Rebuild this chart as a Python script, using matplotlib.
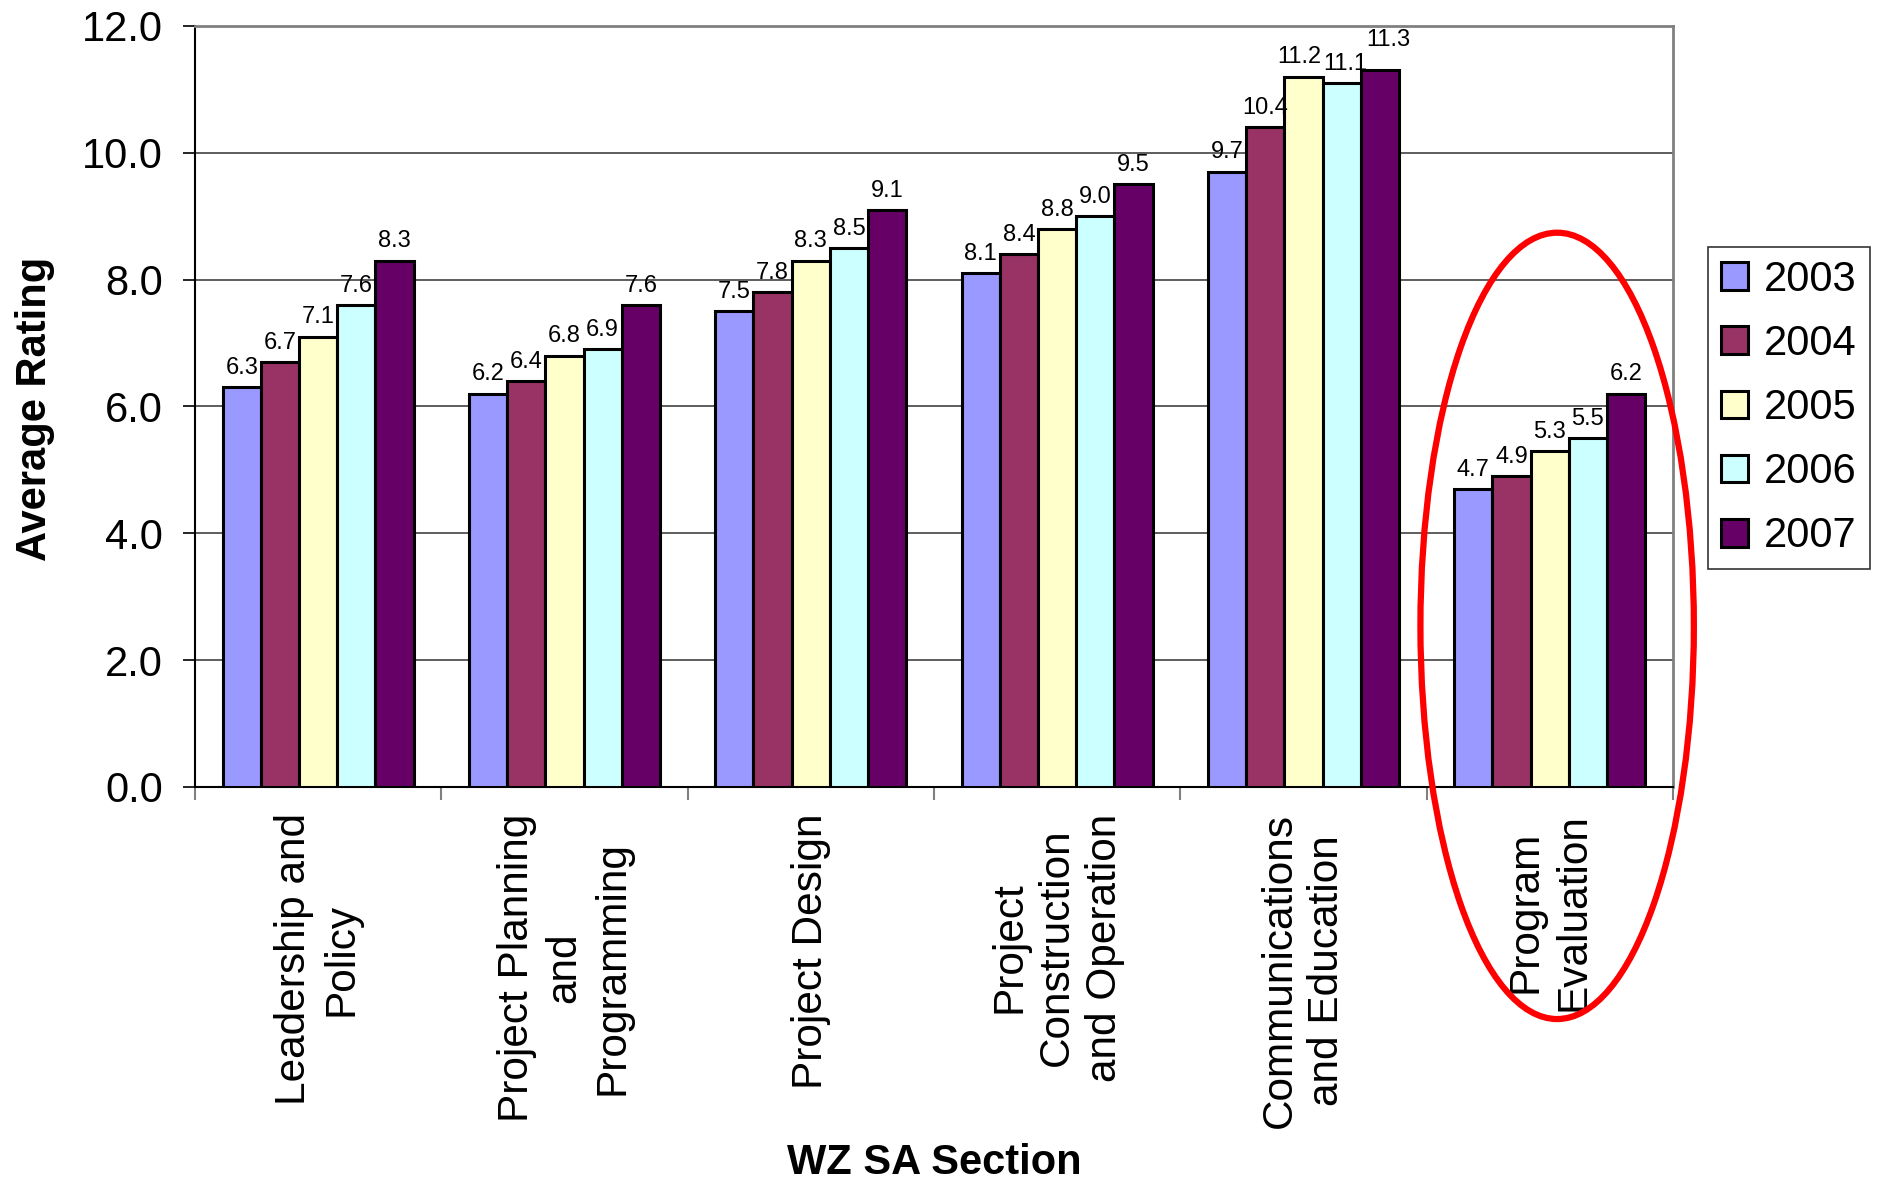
import numpy as np
import matplotlib.pyplot as plt
from matplotlib.patches import Ellipse

plt.rcParams['font.family'] = ['Liberation Sans', 'DejaVu Sans']

secciones = ["Leadership and\nPolicy",
             "Project Planning\nand\nProgramming",
             "Project Design",
             "Project\nConstruction\nand Operation",
             "Communications\nand Education",
             "Program\nEvaluation"]
anios = ["2003", "2004", "2005", "2006", "2007"]
colores = ["#9999FF", "#993366", "#FFFFCC", "#CCFFFF", "#660066"]

r2003 = [6.3, 6.2, 7.5, 8.1, 9.7, 4.7]
r2004 = [6.7, 6.4, 7.8, 8.4, 10.4, 4.9]
r2005 = [7.1, 6.8, 8.3, 8.8, 11.2, 5.3]
r2006 = [7.6, 6.9, 8.5, 9.0, 11.1, 5.5]
r2007 = [8.3, 7.6, 9.1, 9.5, 11.3, 6.2]
ratings = [r2003, r2004, r2005, r2006, r2007]

# corrimiento (dx, dy en pt) de algunas etiquetas para que no se pisen
corrimientos = {(2, 4): (-3, 0), (3, 4): (3, 0), (4, 4): (6, 8)}

fig = plt.figure(figsize=(18.78, 11.8), dpi=100)
ax = fig.add_axes([0.1038, 0.3331, 0.7870, 0.6449])

x = np.arange(len(secciones))
ancho = 0.155
for k in range(len(anios)):
    pos = x + (k - 2) * ancho
    ax.bar(pos, ratings[k], ancho, color=colores[k], edgecolor="black",
           linewidth=2.2, label=anios[k], zorder=3)
    for i in range(len(secciones)):
        dx, dy = corrimientos.get((k, i), (0, 0))
        ax.annotate(f"{ratings[k][i]:.1f}", (pos[i], ratings[k][i]), xytext=(dx, 6 + dy),
                    textcoords="offset points", ha="center", va="bottom",
                    fontsize=17, zorder=4)

ax.set_xlim(-0.5, len(secciones) - 0.5)
ax.set_ylim(0, 12)
ax.set_yticks(np.arange(0, 12.1, 2))
ax.set_yticklabels([f"{v:.1f}" for v in np.arange(0, 12.1, 2)], fontsize=30)
ax.yaxis.grid(True, color="#505050", linewidth=1.3, zorder=0)
ax.set_axisbelow(True)
ax.tick_params(axis="y", direction="out", length=9, width=1.2, pad=14)

# ticks on the group borders, labels in the middle of each group
ax.set_xticks(np.arange(-0.5, len(secciones)), minor=False)
ax.set_xticklabels([])
ax.tick_params(axis="x", which="major", direction="out", length=9, width=1.5, color="#808080")
ax.set_xticks(x, minor=True)
ax.set_xticklabels(secciones, minor=True, rotation=90, fontsize=30.5, ha="center", va="top")
ax.tick_params(axis="x", which="minor", length=0, pad=19)
for t in ax.get_xticklabels(minor=True):
    t.set_linespacing(1.25)
    t.set_multialignment("center")

ax.spines["left"].set_color("black")
ax.spines["left"].set_linewidth(1.5)
ax.spines["bottom"].set_color("black")
ax.spines["bottom"].set_linewidth(1.5)
for lado in ["top", "right"]:
    ax.spines[lado].set_color("#808080")
    ax.spines[lado].set_linewidth(2)

fig.text(35 / 1878, 1 - 409 / 1180, "Average Rating", rotation=90, fontsize=30,
         fontweight="bold", ha="center", va="center")
fig.text(934 / 1878, 1 - 1163 / 1180, "WZ SA Section", fontsize=30,
         fontweight="bold", ha="center", va="center")

ax.legend(loc="upper left", bbox_to_anchor=(0.9095, 0.7905), bbox_transform=fig.transFigure,
          borderaxespad=0, fontsize=30, frameon=True, fancybox=False, edgecolor="black",
          handlelength=0.65, handleheight=0.65, handletextpad=0.4, labelspacing=0.58,
          borderpad=0.3)
ax.get_legend().get_frame().set_linewidth(1.2)

# circulo rojo alrededor de Program Evaluation
ax.add_patch(Ellipse((5.03, 2.54), 1.11, 12.4, fill=False, edgecolor="#FF0000",
                     linewidth=4.5, clip_on=False, zorder=5))

plt.savefig("out.png", dpi=100)
